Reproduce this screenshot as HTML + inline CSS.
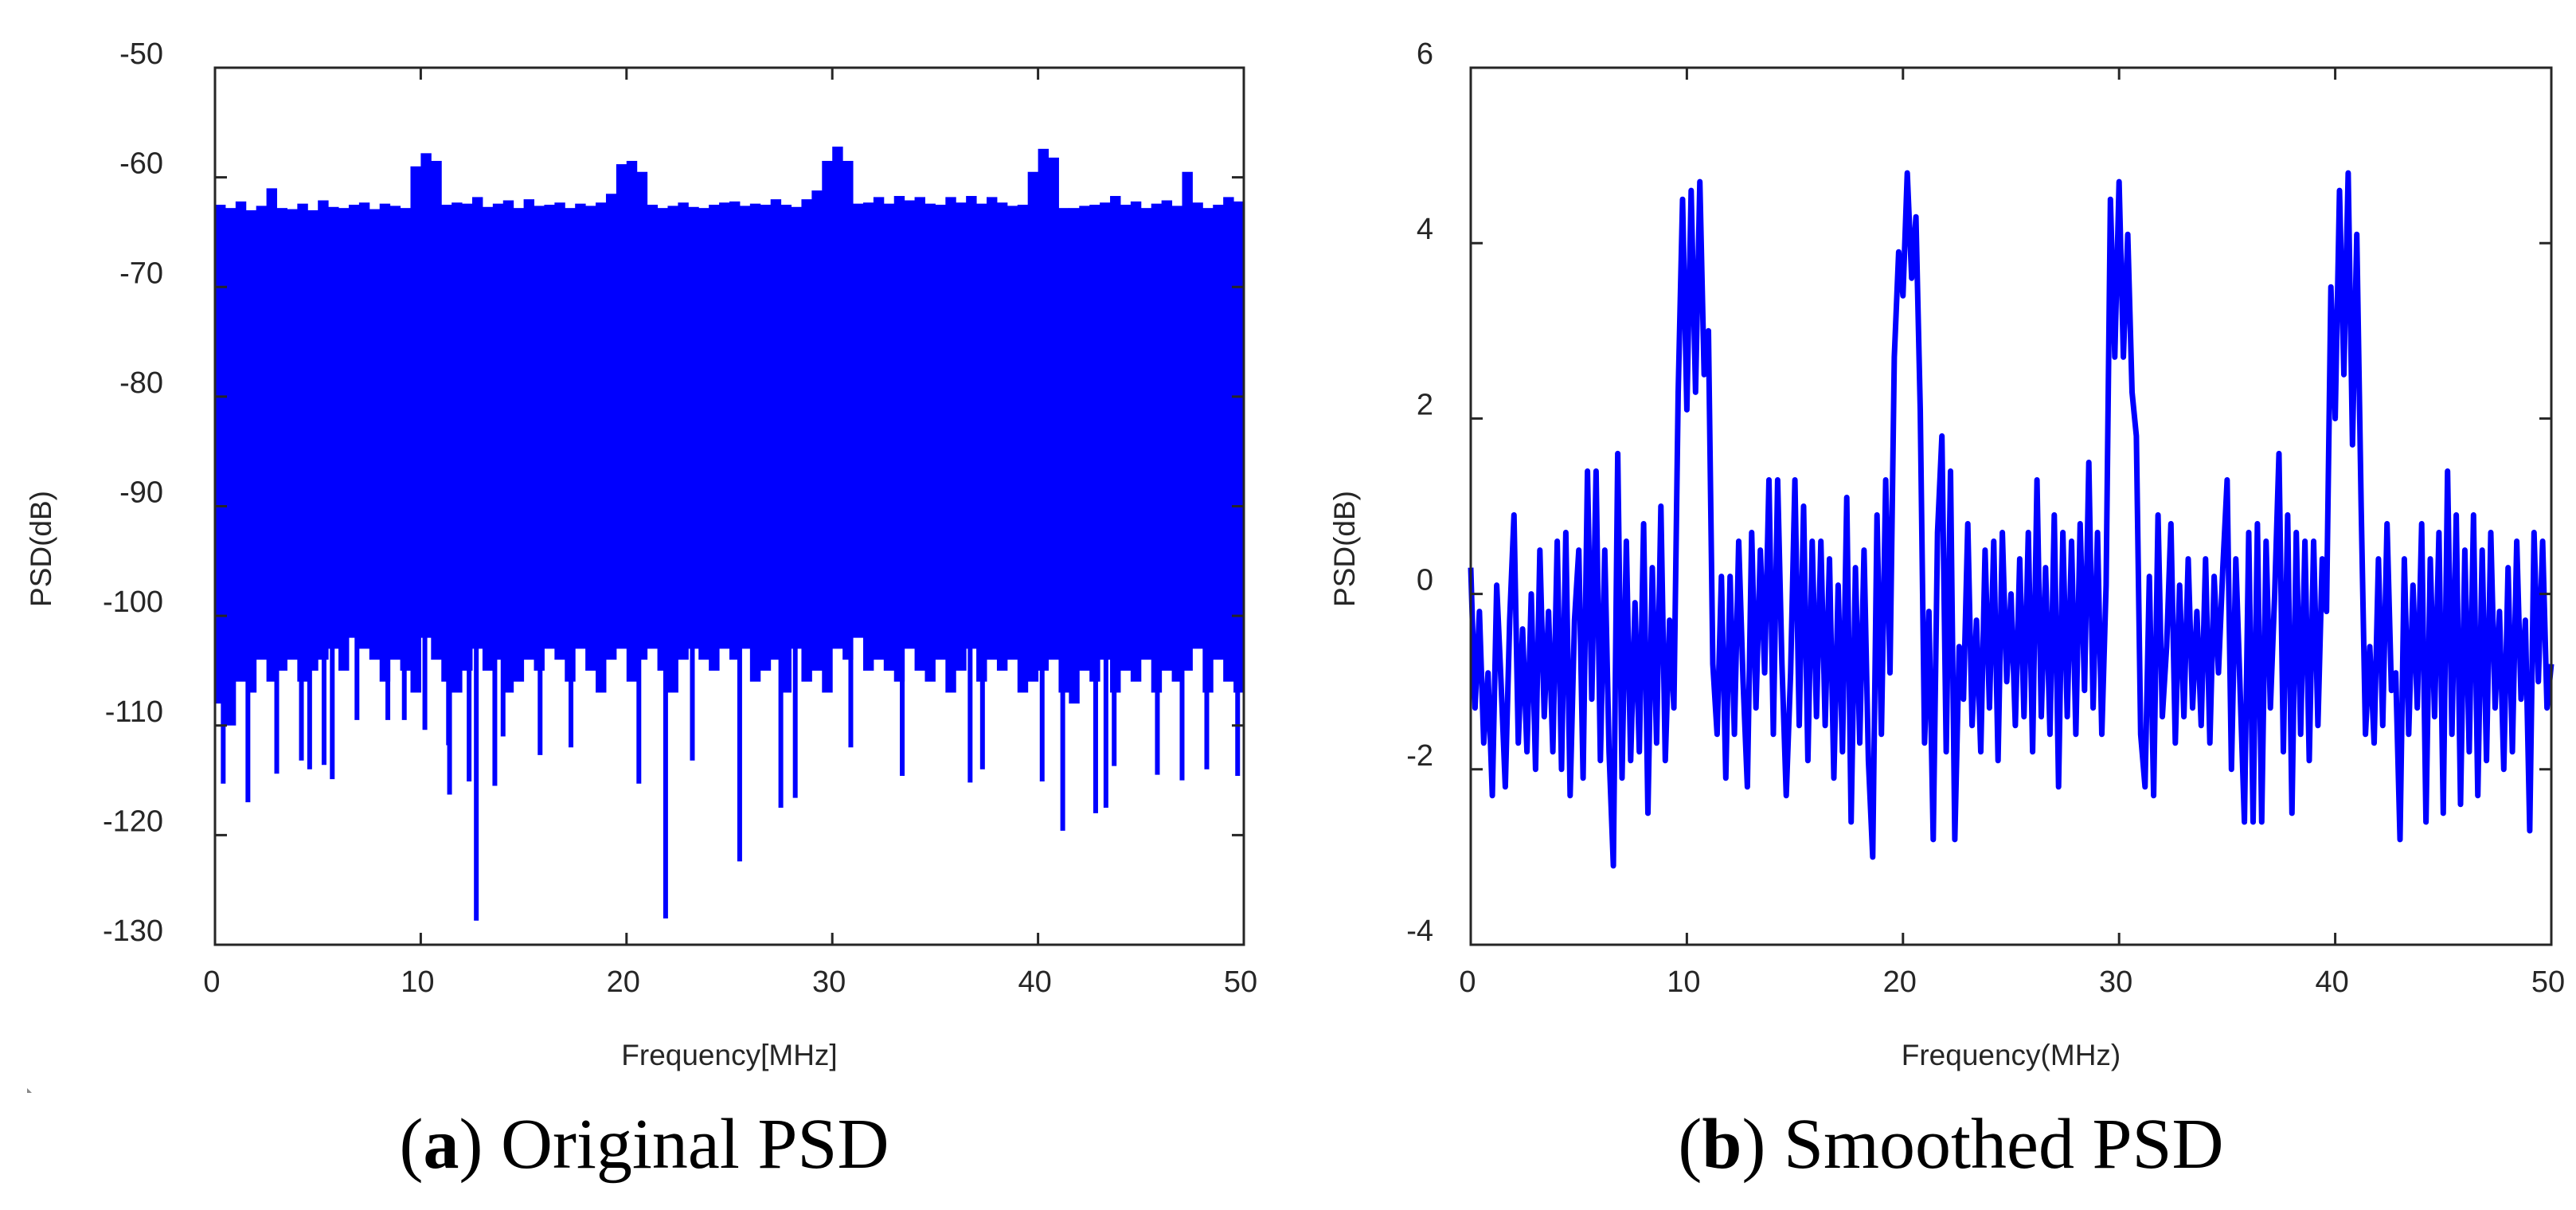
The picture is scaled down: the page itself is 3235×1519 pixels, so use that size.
<!DOCTYPE html>
<html><head><meta charset="utf-8"><style>
html,body{margin:0;padding:0;background:#fff;}
svg{display:block;}
text{font-family:"Liberation Sans",sans-serif;fill:#262626;}
.cap{font-family:"Liberation Serif",serif;fill:#000;}
</style></head><body>
<svg id="fig" width="3235" height="1519" viewBox="0 0 3235 1519" xmlns="http://www.w3.org/2000/svg">
<g id="chartA"></g>
<g id="chartB"></g>
<text class="cap" x="809" y="1466" font-size="90" text-anchor="middle">(<tspan font-weight="bold">a</tspan>) Original PSD</text>
<text class="cap" x="2450" y="1466" font-size="90" text-anchor="middle">(<tspan font-weight="bold">b</tspan>) Smoothed PSD</text>
<path d="M34 1366 L40 1372 L34 1372 Z" fill="#888"/>
</svg>
<script>
// ---------- Chart A data ----------
const aXTicks = [0,10,20,30,40,50];
const aYTicks = [-50,-60,-70,-80,-90,-100,-110,-120,-130];
const aBinWidth = 0.5;
const aUpper = [-62.5,-62.8,-62.2,-63,-62.6,-61,-62.8,-62.9,-62.4,-63,-62.1,-62.7,-62.8,-62.5,-62.3,-62.9,-62.4,-62.6,-62.8,-59,-57.8,-58.5,-62.5,-62.3,-62.4,-61.8,-62.7,-62.4,-62.1,-62.8,-62.0,-62.6,-62.5,-62.3,-62.8,-62.4,-62.6,-62.3,-61.5,-58.8,-58.5,-59.5,-62.5,-62.8,-62.6,-62.3,-62.7,-62.8,-62.5,-62.3,-62.2,-62.6,-62.4,-62.5,-62.0,-62.5,-62.7,-62.0,-61.2,-58.5,-57.2,-58.5,-62.4,-62.3,-61.8,-62.4,-61.7,-62.1,-61.8,-62.4,-62.5,-61.8,-62.3,-61.7,-62.4,-61.8,-62.3,-62.6,-62.5,-59.5,-57.4,-58.2,-62.8,-62.8,-62.6,-62.5,-62.3,-61.7,-62.5,-62.2,-62.8,-62.4,-62.1,-62.6,-59.5,-62.3,-62.8,-62.5,-61.8,-62.2];
const aLower = [-108,-110,-106,-107,-104,-106,-105,-104,-106,-105,-104,-103,-105,-102,-103,-104,-106,-104,-105,-107,-102,-104,-106,-107,-105,-103,-105,-104,-107,-106,-104,-105,-103,-104,-106,-103,-105,-107,-104,-103,-106,-104,-103,-105,-107,-104,-103,-104,-105,-103,-104,-103,-106,-105,-104,-107,-103,-106,-105,-107,-103,-104,-102,-105,-104,-105,-106,-103,-105,-106,-104,-107,-105,-103,-106,-104,-105,-104,-107,-106,-105,-104,-107,-108,-105,-106,-104,-107,-105,-106,-104,-107,-105,-106,-105,-103,-107,-104,-106,-107];
const aSpikeF = [0.4,1.6,3.0,4.2,4.6,5.3,5.7,6.9,8.4,9.2,10.2,11.35,11.4,12.35,12.7,13.6,14.0,15.8,17.3,20.6,21.9,23.2,25.5,27.5,28.2,30.9,33.4,36.7,37.3,40.2,41.2,42.8,43.3,43.7,45.8,47.0,48.2,49.7];
const aSpikeV = [-115.3,-117,-114.4,-113.2,-114,-113.6,-114.9,-109.5,-109.5,-109.5,-110.4,-111.8,-116.3,-115.1,-127.8,-115.5,-111,-112.7,-112,-115.3,-127.6,-113.2,-122.4,-117.5,-116.6,-112,-114.6,-115.2,-114,-115.1,-119.6,-118,-117.5,-113.7,-114.5,-115,-114,-114.6];

// ---------- Chart B data ----------
const bXTicks = [0,10,20,30,40,50];
const bYTicks = [6,4,2,0,-2,-4];
const bStep = 0.2;
const bValues = [0.3,-1.3,-0.2,-1.7,-0.9,-2.3,0.1,-1.0,-2.2,-0.3,
0.9,-1.7,-0.4,-1.8,0.0,-2.0,0.5,-1.4,-0.2,-1.8,
0.6,-2.0,0.7,-2.3,-0.3,0.5,-2.1,1.4,-1.2,1.4,
-1.9,0.5,-1.8,-3.1,1.6,-2.1,0.6,-1.9,-0.1,-1.8,
0.8,-2.5,0.3,-1.7,1.0,-1.9,-0.3,-1.3,2.3,4.5,
2.1,4.6,2.3,4.7,2.5,3.0,-0.8,-1.6,0.2,-2.1,
0.2,-1.6,0.6,-1.0,-2.2,0.7,-1.3,0.5,-0.9,1.3,
-1.6,1.3,-0.8,-2.3,-0.9,1.3,-1.5,1.0,-1.9,0.6,
-1.4,0.6,-1.5,0.4,-2.1,0.1,-1.8,1.1,-2.6,0.3,
-1.7,0.5,-1.9,-3.0,0.9,-1.6,1.3,-0.9,2.7,3.9,
3.4,4.8,3.6,4.3,2.1,-1.7,-0.2,-2.8,0.7,1.8,
-1.8,1.4,-2.8,-0.6,-1.2,0.8,-1.5,-0.3,-1.8,0.5,
-1.3,0.6,-1.9,0.7,-1.0,0.0,-1.5,0.4,-1.4,0.7,
-1.8,1.3,-1.4,0.3,-1.6,0.9,-2.2,0.7,-1.4,0.6,
-1.6,0.8,-1.1,1.5,-1.3,0.7,-1.6,0.1,4.5,2.7,
4.7,2.7,4.1,2.3,1.8,-1.6,-2.2,0.2,-2.3,0.9,
-1.4,-0.6,0.8,-1.7,0.1,-1.4,0.4,-1.3,-0.2,-1.5,
0.4,-1.7,0.2,-0.9,0.3,1.3,-2.0,0.4,-1.1,-2.6,
0.7,-2.6,0.8,-2.6,0.6,-1.3,0.0,1.6,-1.8,0.9,
-2.5,0.7,-1.6,0.6,-1.9,0.6,-1.5,0.4,-0.2,3.5,
2.0,4.6,2.5,4.8,1.7,4.1,1.0,-1.6,-0.6,-1.7,
0.4,-1.5,0.8,-1.1,-0.9,-2.8,0.4,-1.6,0.1,-1.3,
0.8,-2.6,0.4,-1.4,0.7,-2.5,1.4,-1.6,0.9,-2.4,
0.5,-1.8,0.9,-2.3,0.5,-1.9,0.7,-1.3,-0.2,-2.0,
0.3,-1.8,0.6,-1.2,-0.3,-2.7,0.7,-1.0,0.6,-1.3,
-0.8];

const NS = "http://www.w3.org/2000/svg";
function mk(parent, tag, attrs, txt){
  const e = document.createElementNS(NS, tag);
  for (const k in attrs) e.setAttribute(k, attrs[k]);
  if (txt !== undefined) e.textContent = txt;
  parent.appendChild(e);
  return e;
}
function linear(d0,d1,r0,r1){ return v => r0 + (v-d0)/(d1-d0)*(r1-r0); }

function frame(g, L, R, T, B, sx, sy, xt, yt, labelRight, xTitle, yTitleX){
  let e;
  e = mk(g,'rect',{x:L,y:T,width:R-L,height:B-T,fill:'none',stroke:'#262626','stroke-width':3});
  
  
  xt.forEach(v=>{
    const x = sx(v);
    e = mk(g,'path',{d:`M${x} ${B}V${B-15}M${x} ${T}V${T+15}`,stroke:'#262626','stroke-width':3});
    
    
    e = mk(g,'text',{x:x-4,y:B+59,'font-size':38,'text-anchor':'middle'},String(v));
    
    
  });
  yt.forEach(v=>{
    const y = sy(v);
    e = mk(g,'path',{d:`M${L} ${y}H${L+15}M${R} ${y}H${R-15}`,stroke:'#262626','stroke-width':3});
    
    
    e = mk(g,'text',{x:labelRight,y:y-5,'font-size':38,'text-anchor':'end'},String(v));
    
    
  });
  e = mk(g,'text',{x:(L+R)/2,y:1337,'font-size':37,'text-anchor':'middle'},xTitle);
  
  
  e = mk(g,'text',{x:0,y:0,'font-size':37,'text-anchor':'middle',transform:`translate(${yTitleX},689) rotate(-90)`},'PSD(dB)');
  
  
}

// Chart A
(function(){
  const g = document.getElementById('chartA');
  const L=270,R=1562,T=85,B=1186;
  const sx = linear(0,50,L,R), sy = linear(-50,-130,T,B);
  const series = mk(g,'g',{fill:'#0000ff',stroke:'#0000ff'});
  
  
  aUpper.forEach((u,i)=>{
    const x0 = sx(i*aBinWidth), x1 = sx((i+1)*aBinWidth);
    const r = mk(series,'rect',{x:x0,y:sy(u),width:x1-x0+0.5,height:sy(aLower[i])-sy(u),stroke:'none'});
    
    
  });
  aSpikeF.forEach((f,i)=>{
    const l = mk(series,'line',{x1:sx(f),x2:sx(f),y1:sy(-100),y2:sy(aSpikeV[i]),'stroke-width':6});
    
    
  });
  frame(g,L,R,T,B,sx,sy,aXTicks,aYTicks,205,'Frequency[MHz]',64);
})();

// Chart B
(function(){
  const g = document.getElementById('chartB');
  const L=1847,R=3204,T=85,B=1186;
  const sx = linear(0,50,L,R), sy = linear(6,-4,T,B);
  const pts = bValues.map((v,i)=>sx(i*bStep).toFixed(1)+','+sy(v).toFixed(1)).join(' ');
  const p = mk(g,'polyline',{points:pts,fill:'none',stroke:'#0000ff','stroke-width':7,'stroke-linejoin':'round'});
  
  
  frame(g,L,R,T,B,sx,sy,bXTicks,bYTicks,1800,'Frequency(MHz)',1701);
})();
</script>
</body></html>
